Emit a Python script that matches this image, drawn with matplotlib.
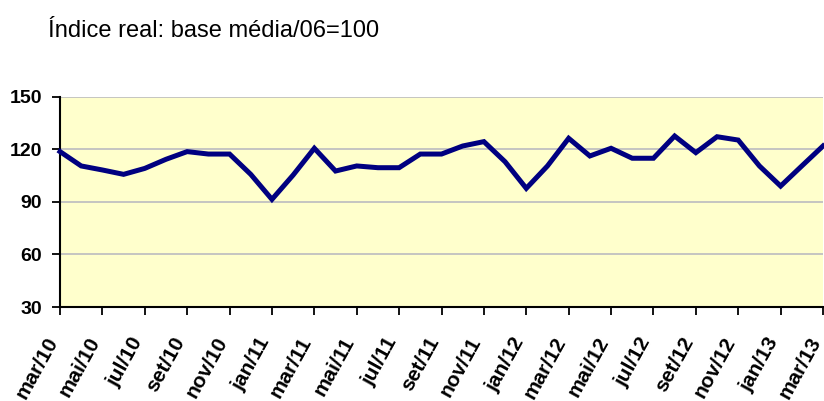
import matplotlib
matplotlib.use("Agg")
import matplotlib.pyplot as plt
import numpy as np

# índice real mensal, mar/10 a mar/13
values = [118.8, 110.6, 108.3, 105.8, 109.2, 114.4, 118.8, 117.4, 117.4, 105.8,
          91.5, 105.4, 120.7, 107.7, 110.6, 109.6, 109.6, 117.4, 117.4, 122.0,
          124.5, 113.0, 97.8, 110.6, 126.4, 116.3, 120.7, 115.0, 115.0, 127.7,
          118.2, 127.3, 125.4, 110.6, 99.1, 110.6, 122.0]
tick_labels = ["mar/10", "mai/10", "jul/10", "set/10", "nov/10", "jan/11", "mar/11",
               "mai/11", "jul/11", "set/11", "nov/11", "jan/12", "mar/12", "mai/12",
               "jul/12", "set/12", "nov/12", "jan/13", "mar/13"]
yticks = [30, 60, 90, 120, 150]

plt.rcParams['font.family'] = ['Liberation Sans', 'DejaVu Sans']

fig = plt.figure(figsize=(8.24, 4.01), dpi=100)
ax = fig.add_axes([60 / 824, (401 - 307) / 401, 763 / 824, 210 / 401])
ax.set_facecolor("#FFFFCC")

x = np.arange(len(values))
ax.plot(x, values, color="#000080", linewidth=3.6, solid_joinstyle="miter", clip_on=False, zorder=3)

ax.set_xlim(0, len(values) - 1)
ax.set_ylim(30, 150)
ax.set_yticks(yticks)
ax.set_yticklabels([str(v) for v in yticks], fontsize=14, fontweight="bold")

# marcas a cada 2 meses; rótulos inclinados colocados à mão, um pouco à esquerda
tick_pos = x[::2]
ax.set_xticks(tick_pos)
ax.set_xticklabels([])
for xi, lbl in zip(tick_pos, tick_labels):
    ax.annotate(lbl, xy=(xi, 0), xycoords=("data", "axes fraction"),
                xytext=(-5, -22.5), textcoords="offset points",
                rotation=61, rotation_mode="anchor", ha="right", va="center",
                fontsize=15, fontweight="bold", annotation_clip=False)

ax.yaxis.grid(True, color="#C0C0C0", linewidth=1.3)
ax.set_axisbelow(True)

for s in ["top", "right"]:
    ax.spines[s].set_visible(False)
for s in ["left", "bottom"]:
    ax.spines[s].set_linewidth(1.5)
ax.tick_params(axis="y", length=6, width=1.3, direction="out", pad=7)
ax.tick_params(axis="x", length=6, width=1.3, direction="out")

fig.text(48 / 824, 1 - 31 / 401, "Índice real: base média/06=100", fontsize=17,
         family=["Liberation Sans Narrow", "Liberation Sans", "DejaVu Sans"], va="center")

fig.savefig("out.png", dpi=100)
